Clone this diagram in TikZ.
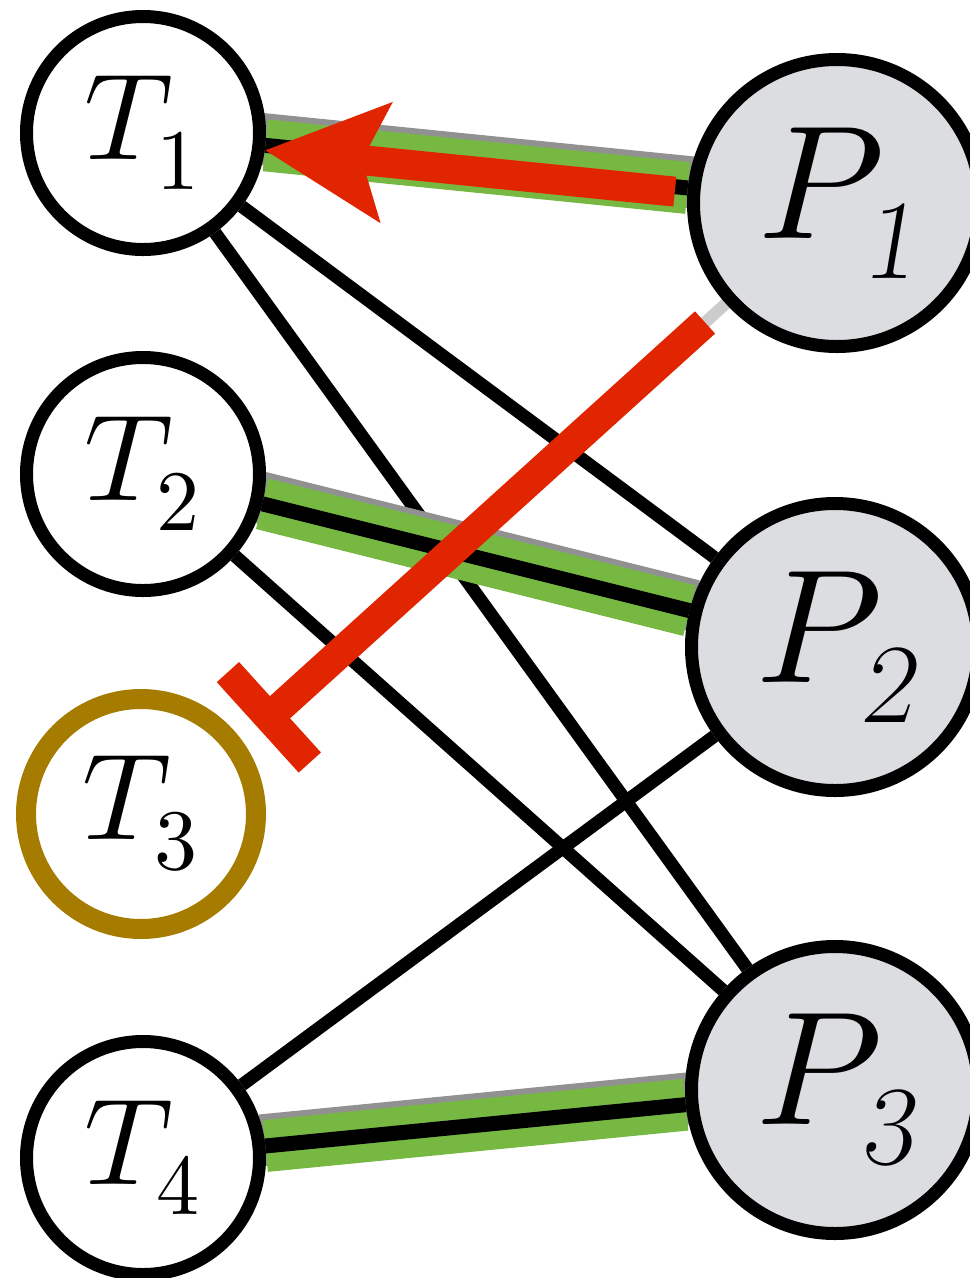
\documentclass[tikz,border=0pt]{standalone}
\usepackage{amsmath}
\usepackage{unicode-math}
\setmathfont{Latin Modern Math}
\usetikzlibrary{arrows.meta,backgrounds}
\definecolor{hlgreen}{RGB}{118,184,66}
\definecolor{hlshade}{RGB}{145,145,145}
\definecolor{actred}{RGB}{225,37,0}
\definecolor{tbrown}{RGB}{166,124,0}
\definecolor{pfill}{RGB}{220,221,224}
\begin{document}
\begin{tikzpicture}[
  tnode/.style={draw, circle, line width=0.13cm, fill=white, minimum size=2.33cm, inner sep=0pt, font=\fontsize{35}{42}\selectfont},
  pnode/.style={draw, circle, line width=0.13cm, fill=pfill, minimum size=2.87cm, inner sep=0pt, font=\fontsize{46}{54}\selectfont},
  link/.style={line width=0.13cm},
  matched/.style={line width=0.15cm},
  hilite/.style={line width=0.52cm, hlgreen},
  hishade/.style={line width=0.52cm, hlshade, shorten <=-0.04cm, shorten >=-0.04cm, transform canvas={yshift=0.06cm}},
  activate/.style={line width=0.3cm, actred, shorten <=0.13cm, -{Stealth[length=1.22cm, width=1.22cm, inset=0.25cm, line width=0pt]}, transform canvas={yshift=-0.05cm}},
  inhibit/.style={line width=0.3cm, actred, shorten <=0.28cm, shorten >=1.44cm, -{Bar[width=1.22cm]}}
]
  \useasboundingbox (0,0) rectangle (9.70,-12.78);
  % tasks
  \node[tnode] (T1) at (1.43,-1.33) {$T_1$};
  \node[tnode] (T2) at (1.43,-4.74) {$T_2$};
  \node[tnode, draw=tbrown, line width=0.2cm, minimum size=2.3cm] (T3) at (1.41,-8.14) {$T_3$};
  \node[tnode] (T4) at (1.43,-11.58) {$T_4$};
  % processors
  \node[pnode] (P1) at (8.37,-2.03) {$P_{\textsl{1}}$};
  \node[pnode] (P2) at (8.35,-6.47) {$P_{\textsl{2}}$};
  \node[pnode] (P3) at (8.35,-10.90) {$P_{\textsl{3}}$};
  \begin{scope}[on background layer]
    \foreach \a/\b in {T1/P2, T1/P3, T2/P3, T4/P2}
      \draw[link] (\a) -- (\b);
    \foreach \a/\b in {T1/P1, T2/P2, T4/P3} {
      \draw[hishade] (\a) -- (\b);
      \draw[hilite] (\a) -- (\b);
      \draw[matched] (\a) -- (\b);
    }
    \draw[line width=0.12cm, black!20, shorten >=1.6cm] (P1) -- ([shift={(0.1,-0.1)}]T3.center);
    \draw[activate] (P1) -- (T1);
    \draw[inhibit] (P1) -- ([shift={(0.1,-0.1)}]T3.center);
  \end{scope}
\end{tikzpicture}
\end{document}
